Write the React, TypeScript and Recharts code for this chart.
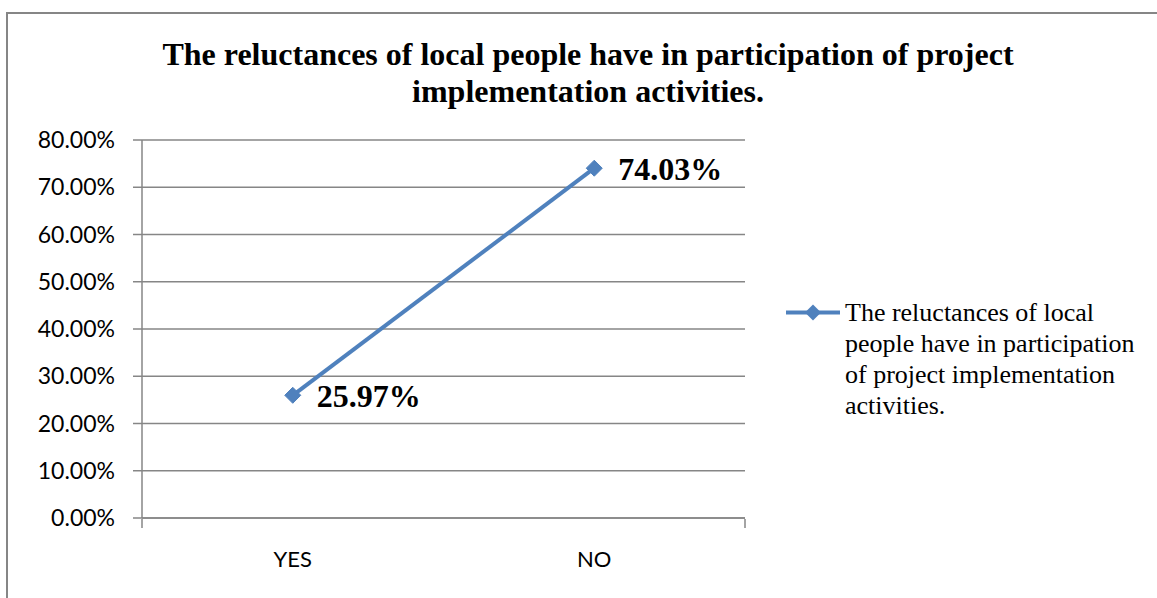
import React from 'react';
import { LineChart, Line, XAxis, YAxis, CartesianGrid, LabelList } from 'recharts';

const categories = ['YES', 'NO'];
const shares = [0.2597, 0.7403];
const yTicks = [0, 0.1, 0.2, 0.3, 0.4, 0.5, 0.6, 0.7, 0.8];
const edgeTicks = [0, 1, 2];

const seriesName = 'The reluctances of local people have in participation of project implementation activities.';
const titleLines = ['The reluctances of local people have in participation of project', 'implementation activities.'];

const BLUE = '#4F81BD';
const GRAY = '#868686';
const SERIF = '"Liberation Serif", "Times New Roman", serif';
const SANS = 'Lato, "Open Sans", sans-serif';

const data = categories.map((c, i) => ({ name: c, value: shares[i] }));

const pct = (v: number) => (v * 100).toFixed(2) + '%';

const Diamond = (props: any) => {
  const { cx, cy } = props;
  if (cx == null || cy == null) return null;
  const r = 8;
  return (
    <polygon
      key={`d-${cx}`}
      points={`${cx},${cy - r} ${cx + r},${cy} ${cx},${cy + r} ${cx - r},${cy}`}
      fill={BLUE}
      stroke={BLUE}
    />
  );
};

// tick mark between categories; x,y come from the numeric helper axis
const EdgeTick = (props: any) => {
  const { x, y } = props;
  return <line x1={x} x2={x} y1={y - 10} y2={y - 1} stroke={GRAY} strokeWidth={1.5} />;
};

// legend drawn outside the svg so it does not eat plot space
const LegendBox = () => (
  <div style={{ position: 'absolute', left: 786, top: 297, display: 'flex', alignItems: 'flex-start' }}>
    <svg width={59} height={31} style={{ flex: 'none' }}>
      <line x1={0} y1={15.5} x2={54} y2={15.5} stroke={BLUE} strokeWidth={4} />
      <polygon points="27,7.5 35,15.5 27,23.5 19,15.5" fill={BLUE} />
    </svg>
    <div style={{ width: 302, fontFamily: SERIF, fontSize: 26, lineHeight: '31px', color: '#000' }}>
      {seriesName}
    </div>
  </div>
);

export default function App() {
  return (
    <div style={{ position: 'absolute', left: 0, top: 0, width: 1157, height: 598, background: '#fff', overflow: 'hidden' }}>
      <div
        style={{
          position: 'absolute',
          left: 6,
          top: 12,
          width: 1157,
          height: 598,
          borderLeft: `2px solid ${GRAY}`,
          borderTop: `2px solid ${GRAY}`,
        }}
      />
      <div
        style={{
          position: 'absolute',
          left: 88,
          top: 36,
          width: 1000,
          textAlign: 'center',
          fontFamily: SERIF,
          fontWeight: 'bold',
          fontSize: 32,
          lineHeight: '37px',
          color: '#000',
        }}
      >
        {titleLines[0]}
        <br />
        {titleLines[1]}
      </div>
      <div style={{ position: 'absolute', left: 0, top: 0 }}>
        <LineChart width={1157} height={598} data={data} margin={{ top: 140, right: 412, left: 42, bottom: 41 }}>
          <CartesianGrid vertical={false} stroke={GRAY} strokeWidth={1.5} />
          <XAxis
            dataKey="name"
            scale="band"
            height={1}
            axisLine={{ stroke: GRAY, strokeWidth: 1.5 }}
            tickLine={false}
            tickSize={6}
            tickMargin={27}
            tick={{ fill: '#000', fontSize: 22, fontFamily: SANS }}
          />
          {/* numeric helper axis only used for the tick marks between categories */}
          <XAxis
            xAxisId="edge"
            type="number"
            domain={[0, 2]}
            ticks={edgeTicks}
            interval={0}
            allowDataOverflow
            height={38}
            axisLine={false}
            tickLine={false}
            tickSize={9}
            tickMargin={1}
            tick={EdgeTick}
          />
          <YAxis
            width={100}
            domain={[0, 0.8]}
            ticks={yTicks}
            tickFormatter={pct}
            axisLine={{ stroke: GRAY, strokeWidth: 1.5 }}
            tickLine={{ stroke: GRAY, strokeWidth: 1.5 }}
            tickSize={9}
            tickMargin={18}
            tick={{ fill: '#000', fontSize: 23, fontFamily: SANS }}
          />
          <Line
            type="linear"
            dataKey="value"
            name={seriesName}
            stroke={BLUE}
            strokeWidth={4}
            dot={<Diamond />}
            activeDot={false}
            isAnimationActive={false}
          >
            <LabelList
              dataKey="value"
              position="right"
              offset={24}
              formatter={(v: any) => pct(Number(v))}
              style={{ fill: '#000', fontSize: 32, fontWeight: 'bold', fontFamily: SERIF }}
            />
          </Line>
        </LineChart>
      </div>
      <LegendBox />
    </div>
  );
}
